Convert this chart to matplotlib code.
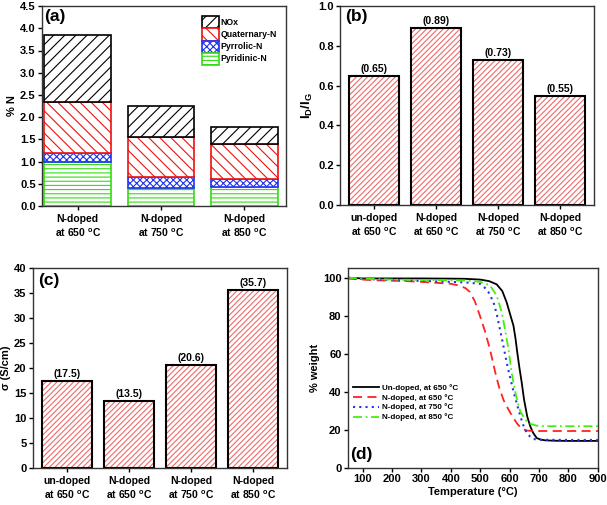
import numpy as np
import matplotlib.pyplot as plt

plt.rcParams['font.family'] = 'Liberation Sans'
plt.rcParams['font.weight'] = 'bold'
plt.rcParams['axes.labelweight'] = 'bold'
plt.rcParams['mathtext.fontset'] = 'custom'
plt.rcParams['mathtext.rm'] = 'Liberation Sans:bold'
plt.rcParams['mathtext.bf'] = 'Liberation Sans:bold'
plt.rcParams['mathtext.it'] = 'Liberation Sans:bold'
plt.rcParams['hatch.linewidth'] = 0.8
plt.rcParams['xtick.major.size'] = 3
plt.rcParams['ytick.major.size'] = 3
plt.rcParams['axes.linewidth'] = 1.0

# (a) nitrogen species
a_labels = ['N-doped\nat 650 $^\\mathbf{o}$C', 'N-doped\nat 750 $^\\mathbf{o}$C', 'N-doped\nat 850 $^\\mathbf{o}$C']
pyridinic = [1.00, 0.40, 0.42]
pyrrolic = [0.20, 0.25, 0.18]
quaternary = [1.13, 0.91, 0.80]
nox = [1.52, 0.69, 0.38]

# (b) Raman ratio and (c) conductivity
bc_labels = ['un-doped\nat 650 $^\\mathbf{o}$C', 'N-doped\nat 650 $^\\mathbf{o}$C',
             'N-doped\nat 750 $^\\mathbf{o}$C', 'N-doped\nat 850 $^\\mathbf{o}$C']
id_ig = [0.65, 0.89, 0.73, 0.55]
sigma = [17.5, 13.5, 20.6, 35.7]

# (d) TGA curves
t_un = [50, 100, 200, 300, 400, 450, 500, 530, 556, 575, 590, 605, 613, 620, 626, 633, 641, 649,
        660, 670, 680, 692, 705, 721, 750, 800, 900]
w_un = [100, 99.6, 99.6, 99.6, 99.5, 99.4, 99.0, 98.2, 96.5, 93, 87, 79, 74.8, 68, 60.7, 53, 45, 36,
        27, 22, 18.5, 15.8, 15, 14.6, 14.4, 14.3, 14.3]
t_650 = [50, 100, 150, 200, 250, 300, 350, 400, 430, 450, 465, 482, 499, 516, 533, 550, 565, 580,
         596, 610, 625, 641, 660, 680, 720, 800, 900]
w_650 = [99.5, 99, 98.6, 98.4, 98.2, 97.8, 97.3, 96.8, 95.8, 94.5, 92.5, 87.5, 80, 72, 62.5, 51,
         42, 35.5, 30.8, 27, 23.5, 20.6, 19.7, 19.5, 19.5, 19.5, 19.5]
t_750 = [50, 100, 200, 300, 400, 450, 499, 515, 528, 545, 556, 567, 579, 590, 601, 612, 626, 641,
         650, 658, 670, 681, 700, 800, 900]
w_750 = [100, 99.3, 98.8, 98.3, 97.8, 97.5, 96.8, 94.8, 92.4, 87.2, 81, 73, 64, 55.5, 48, 41, 33,
         25, 21, 18.5, 16.5, 15.3, 14.9, 14.8, 14.8]
t_850 = [50, 100, 200, 300, 400, 450, 500, 533, 556, 573, 584, 596, 607, 619, 628, 636, 647, 658,
         675, 692, 720, 800, 900]
w_850 = [100, 99.5, 99, 98.8, 98.6, 98.5, 97.8, 96, 90.6, 81.9, 73, 62.5, 50, 40, 34, 29.9, 27,
         24.6, 23, 22.3, 22, 22, 22]

fig = plt.figure(figsize=(6.07, 5.05), dpi=100)
ax_a = fig.add_axes([0.069, 0.592, 0.402, 0.396])
ax_b = fig.add_axes([0.560, 0.594, 0.419, 0.394])
ax_c = fig.add_axes([0.054, 0.073, 0.419, 0.396])
ax_d = fig.add_axes([0.573, 0.073, 0.412, 0.396])

# ---- (a)
xa = np.arange(1, 4)
b1 = np.array(pyridinic)
b2 = b1 + np.array(pyrrolic)
b3 = b2 + np.array(quaternary)
h_pyd = ax_a.bar(xa, pyridinic, 0.8, color='white', edgecolor='#33dd11', hatch='----', lw=1.2,
                 label='Pyridinic-N')
h_pyr = ax_a.bar(xa, pyrrolic, 0.8, bottom=b1, color='white', edgecolor='#2233ee', hatch='xxxxx',
                 lw=1.2, label='Pyrrolic-N')
h_q = ax_a.bar(xa, quaternary, 0.8, bottom=b2, color='white', edgecolor='#ee1111', hatch='\\\\\\',
               lw=1.2, label='Quaternary-N')
h_nox = ax_a.bar(xa, nox, 0.8, bottom=b3, color='white', edgecolor='black', hatch='///', lw=1.2,
                 label='NOx')
ax_a.set_xlim(0.57, 3.5)
ax_a.set_ylim(0, 4.5)
ax_a.set_yticks(np.arange(0, 4.6, 0.5))
ax_a.set_xticks(xa)
ax_a.set_xticklabels(a_labels, fontsize=7.5)
ax_a.set_ylabel('% N', fontsize=8, labelpad=2)
ax_a.legend([h_nox, h_q, h_pyr, h_pyd], ['NOx', 'Quaternary-N', 'Pyrrolic-N', 'Pyridinic-N'],
            loc='upper left', bbox_to_anchor=(0.635, 0.975), frameon=False,
            prop={'size': 6.3}, handlelength=1.9, handleheight=1.75,
            labelspacing=0.0, handletextpad=0.2, borderpad=0.1)
ax_a.text(0.01, 0.985, '(a)', transform=ax_a.transAxes, fontsize=12.5, va='top', ha='left')

# ---- (b) and (c)
xb = np.arange(1, 5)
for ax, vals, fmt in [(ax_b, id_ig, '({:.2f})'), (ax_c, sigma, '({:.1f})')]:
    ax.bar(xb, vals, 0.8, color='white', edgecolor='#f06a6a', hatch='//////', lw=0)
    ax.bar(xb, vals, 0.8, fill=False, edgecolor='black', lw=1.5)
    for xi, v in zip(xb, vals):
        ax.annotate(fmt.format(v), (xi, v), xytext=(0, 1.5), textcoords='offset points',
                    ha='center', va='bottom', fontsize=7.5)
    ax.set_xlim(0.45, 4.55)
    ax.set_xticks(xb)
    ax.set_xticklabels(bc_labels, fontsize=7.5)

ax_b.set_ylim(0, 1.0)
ax_b.set_yticks(np.arange(0, 1.01, 0.2))
ax_b.set_ylabel('I$_\\mathbf{D}$/I$_\\mathbf{G}$', fontsize=9.5, labelpad=2)
ax_b.text(0.02, 0.985, '(b)', transform=ax_b.transAxes, fontsize=12.5, va='top', ha='left')

ax_c.set_ylim(0, 40)
ax_c.set_yticks(np.arange(0, 41, 5))
ax_c.set_ylabel('σ (S/cm)', fontsize=8, labelpad=2)
ax_c.text(0.02, 0.975, '(c)', transform=ax_c.transAxes, fontsize=12.5, va='top', ha='left')

# ---- (d)
ax_d.plot(t_un, w_un, color='black', lw=1.3, ls='-', label='Un-doped, at 650 °C')
ax_d.plot(t_650, w_650, color='#ff2222', lw=1.3, ls=(0, (5, 3)), label='N-doped, at 650 °C')
ax_d.plot(t_750, w_750, color='#2233ee', lw=1.5, ls=(0, (1, 2)), label='N-doped, at 750 °C')
ax_d.plot(t_850, w_850, color='#44ee11', lw=1.3, ls=(0, (5, 2, 1, 2)), label='N-doped, at 850 °C')
ax_d.set_xlim(50, 900)
ax_d.set_ylim(0, 105)
ax_d.set_xticks(np.arange(100, 901, 100))
ax_d.set_yticks(np.arange(0, 101, 20))
ax_d.set_xlabel('Temperature (°C)', fontsize=8, labelpad=2)
ax_d.set_ylabel('% weight', fontsize=8, labelpad=2)
ax_d.legend(loc='upper left', bbox_to_anchor=(0.0, 0.45), frameon=False, prop={'size': 5.8},
            handlelength=3.2, labelspacing=0.25, handletextpad=0.4, borderpad=0.2)
ax_d.text(0.01, 0.03, '(d)', transform=ax_d.transAxes, fontsize=12.5, va='bottom', ha='left')

for ax in [ax_a, ax_b, ax_c, ax_d]:
    ax.tick_params(labelsize=8, pad=1.5, width=1)
    for s in ax.spines.values():
        s.set_color('#333333')
for ax in [ax_a, ax_b, ax_c]:
    ax.tick_params(axis='x', labelsize=7.5, pad=3)

fig.savefig('out.png', dpi=100)
